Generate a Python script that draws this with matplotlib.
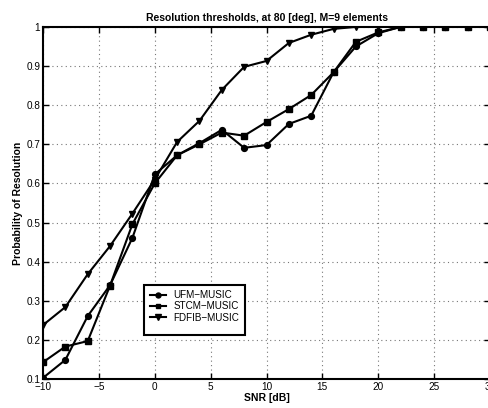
import matplotlib
matplotlib.use("Agg")
import matplotlib.pyplot as plt
from matplotlib.patches import Rectangle

plt.rcParams['font.family'] = ['Liberation Sans', 'DejaVu Sans']

snr = [-10, -8, -6, -4, -2, 0, 2, 4, 6, 8, 10, 12, 14, 16, 18, 20, 22, 24, 26, 28, 30]
ufm = [0.103, 0.149, 0.261, 0.340, 0.461, 0.623, 0.672, 0.703, 0.737, 0.691, 0.698, 0.752, 0.773, 0.884, 0.950, 0.984, 1.0, 1.0, 1.0, 1.0, 1.0]
stcm = [0.143, 0.183, 0.197, 0.339, 0.496, 0.600, 0.672, 0.700, 0.730, 0.722, 0.757, 0.790, 0.826, 0.884, 0.962, 0.986, 1.0, 1.0, 1.0, 1.0, 1.0]
fdfib = [0.238, 0.284, 0.368, 0.440, 0.523, 0.610, 0.706, 0.760, 0.839, 0.898, 0.913, 0.959, 0.980, 0.995, 1.0, 1.0, 1.0, 1.0, 1.0, 1.0, 1.0]
labels = ['UFM\u2212MUSIC', 'STCM\u2212MUSIC', 'FDFIB\u2212MUSIC']

fig = plt.figure(figsize=(4.89, 4.08), dpi=100)
ax = fig.add_axes([0.088, 0.071, 0.914, 0.863])

ax.plot(snr, ufm, color='black', lw=1.5, marker='o', ms=4.2, label=labels[0])
ax.plot(snr, stcm, color='black', lw=1.5, marker='s', ms=3.8, label=labels[1])
ax.plot(snr, fdfib, color='black', lw=1.5, marker='v', ms=4.8, label=labels[2])

ax.set_xlim(-10, 30)
ax.set_ylim(0.1, 1.0)
ax.set_xticks([-10, -5, 0, 5, 10, 15, 20, 25, 30])
ax.set_yticks([0.1, 0.2, 0.3, 0.4, 0.5, 0.6, 0.7, 0.8, 0.9, 1.0])
ax.set_yticklabels(['0.1', '0.2', '0.3', '0.4', '0.5', '0.6', '0.7', '0.8', '0.9', '1'])
ax.grid(True, linestyle=(0, (1, 3)), color='#777777', lw=0.8)
ax.tick_params(direction='in', top=True, right=True, labelsize=7.2, length=4, width=1, pad=2)
for s in ax.spines.values():
    s.set_linewidth(1.5)

ax.set_title('Resolution thresholds, at 80 [deg], M=9 elements', fontsize=7.5, fontweight='bold', pad=4)
ax.set_xlabel('SNR [dB]', fontsize=7.5, fontweight='bold', labelpad=1)
ax.set_ylabel('Probability of Resolution', fontsize=7.5, fontweight='bold', labelpad=2)

# legend entries (no frame), then a MATLAB-style box with empty space below
leg = ax.legend(loc='upper left', bbox_to_anchor=(0.236, 0.258), fontsize=7.1, frameon=False,
                borderpad=0.2, handlelength=1.6, handletextpad=0.7, labelspacing=0.12,
                borderaxespad=0, markerscale=0.85)
fig.canvas.draw()
bb = leg.get_window_extent().transformed(ax.transAxes.inverted())
pad_x = 0.01
frame = Rectangle((bb.x0 - pad_x, bb.y0 - 0.03), bb.width + 2 * pad_x, bb.height + 0.03 + 0.008,
                  transform=ax.transAxes, facecolor='white', edgecolor='black', lw=1.5, zorder=4.5)
ax.add_patch(frame)
leg.set_zorder(5)

fig.savefig('out.png', dpi=100)
